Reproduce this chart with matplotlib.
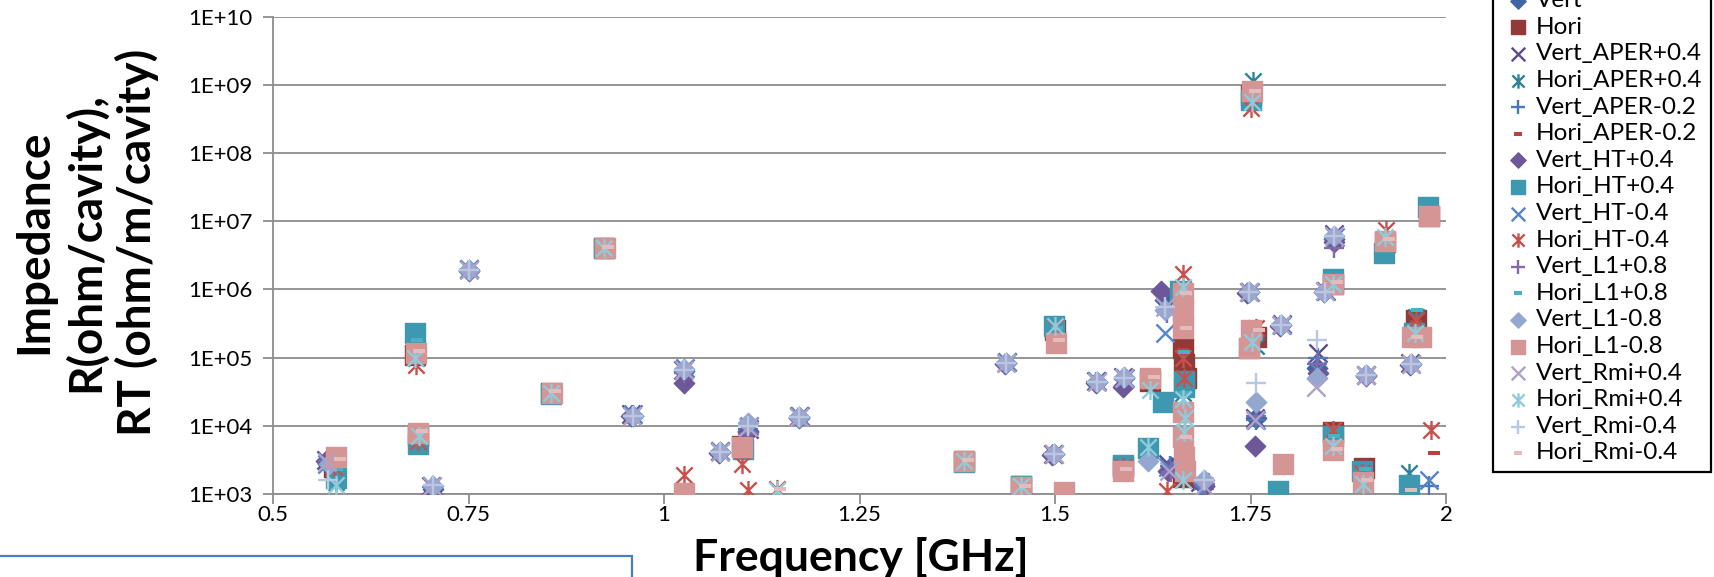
import math

import matplotlib
matplotlib.use("Agg")
import matplotlib.pyplot as plt
from matplotlib.path import Path
from matplotlib.patches import Rectangle
from matplotlib.ticker import FixedLocator, FuncFormatter, NullLocator

plt.rcParams["font.family"] = ["Lato", "DejaVu Sans"]

# ---------------------------------------------------------------------------
# Mode frequencies [GHz] and impedances per geometry variant
# ---------------------------------------------------------------------------

vert_f = [0.570, 0.704, 0.750, 0.960, 1.026, 1.072, 1.107, 1.173, 1.437, 1.498, 1.553, 1.588,
          1.640, 1.648, 1.690, 1.748, 1.757, 1.789, 1.835, 1.845, 1.857, 1.898, 1.955]
vert_z = [2.8e3, 1.2e3, 1.9e6, 1.4e4, 6.3e4, 4.2e3, 8.5e3, 1.35e4, 8.3e4, 3.8e3, 4.4e4, 5.0e4,
          7e5, 2.5e3, 1.3e3, 9e5, 1.3e4, 3e5, 7e4, 9.5e5, 5.5e6, 5.5e4, 8e4]

hori_f = [0.578, 0.682, 0.686, 0.856, 0.923, 1.100, 1.384, 1.456, 1.500, 1.587, 1.621, 1.663,
          1.665, 1.667, 1.664, 1.750, 1.757, 1.855, 1.855, 1.895, 1.922, 1.962, 1.978]
hori_z = [2.5e3, 1.1e5, 7e3, 3e4, 4e6, 5e3, 3e3, 1.3e3, 2.5e5, 2.5e3, 4.5e4, 1.4e5,
          8e4, 5e4, 1.8e3, 7e8, 2e5, 1.2e6, 8e3, 2.4e3, 5e6, 3.5e5, 1.2e7]

vert_aper_p04_f = [0.568, 0.702, 0.751, 0.958, 1.024, 1.071, 1.108, 1.172, 1.438, 1.497, 1.552,
                   1.587, 1.645, 1.685, 1.748, 1.755, 1.790, 1.836, 1.846, 1.857, 1.897, 1.954]
vert_aper_p04_z = [3.2e3, 1.3e3, 2.0e6, 1.5e4, 6.5e4, 4.3e3, 9e3, 1.4e4, 8.5e4, 3.9e3, 4.5e4,
                   5.2e4, 2.8e3, 1.5e3, 9.2e5, 1.3e4, 3.1e5, 1.15e5, 9.5e5, 6.5e6, 5.6e4, 8.2e4]

hori_aper_p04_f = [0.580, 0.683, 0.686, 0.856, 0.923, 1.100, 1.384, 1.456, 1.500, 1.619, 1.663,
                   1.664, 1.666, 1.753, 1.757, 1.855, 1.855, 1.922, 1.953, 1.962]
hori_aper_p04_z = [1.5e3, 1e5, 6e3, 3e4, 4.1e6, 4.8e3, 3e3, 1.3e3, 3e5, 4.9e3, 9e5,
                   3e4, 1.5e4, 1.15e9, 1.5e5, 1.3e6, 6.5e3, 5e6, 2e3, 4e5]

vert_aper_m02_f = [0.570, 0.704, 0.750, 0.960, 1.026, 1.072, 1.107, 1.173, 1.437, 1.498, 1.553,
                   1.588, 1.647, 1.690, 1.748, 1.757, 1.789, 1.836, 1.845, 1.857, 1.898, 1.955, 1.978]
vert_aper_m02_z = [2.9e3, 1.3e3, 1.9e6, 1.45e4, 6.4e4, 4.2e3, 9e3, 1.35e4, 8.3e4, 3.8e3, 4.4e4,
                   5e4, 2.6e3, 1.2e3, 9e5, 1.2e4, 3e5, 1e5, 9.4e5, 5.5e6, 5.5e4, 8e4, 1.3e3]

hori_aper_m02_f = [0.580, 0.683, 0.687, 0.856, 0.923, 1.101, 1.384, 1.456, 1.500, 1.587, 1.621,
                   1.664, 1.665, 1.750, 1.756, 1.855, 1.856, 1.895, 1.922, 1.962, 1.978, 1.984]
hori_aper_m02_z = [2.4e3, 1.1e5, 7e3, 3e4, 4e6, 5e3, 3e3, 1.3e3, 2.6e5, 2.5e3, 4.5e4,
                   1.3e5, 5.5e4, 7e8, 2e5, 1.2e6, 8e3, 2.4e3, 5e6, 3.3e5, 1.25e7, 4e3]

vert_ht_p04_f = [0.568, 0.703, 0.750, 0.958, 1.026, 1.070, 1.107, 1.172, 1.436, 1.496, 1.552, 1.587,
                 1.636, 1.645, 1.690, 1.746, 1.756, 1.788, 1.836, 1.844, 1.857, 1.897, 1.954]
vert_ht_p04_z = [3e3, 1.0e3, 1.85e6, 1.4e4, 4.2e4, 4e3, 8e3, 1.3e4, 8e4, 3.7e3, 4.2e4, 3.7e4,
                 9.5e5, 2.2e3, 1.3e3, 8.8e5, 5e3, 2.9e5, 6e4, 9e5, 5e6, 5.4e4, 7.8e4]

hori_ht_p04_f = [0.581, 0.682, 0.686, 0.856, 0.923, 1.101, 1.384, 1.456, 1.499, 1.587, 1.619, 1.638,
                 1.660, 1.665, 1.665, 1.750, 1.748, 1.785, 1.855, 1.856, 1.893, 1.921, 1.953,
                 1.959, 1.977]
hori_ht_p04_z = [1.7e3, 2.3e5, 5.5e3, 2.9e4, 4e6, 4.5e3, 2.9e3, 1.3e3, 2.9e5, 2.7e3, 4.7e3, 2.2e4,
                 9.5e5, 4.5e4, 3.7e4, 5.9e8, 1.4e5, 1.1e3, 1.4e6, 7e3, 2.2e3, 3.4e6, 1.35e3,
                 2.3e5, 1.6e7]

vert_ht_m04_f = [0.569, 0.703, 0.751, 0.960, 1.027, 1.071, 1.108, 1.174, 1.438, 1.498, 1.553, 1.589,
                 1.640, 1.645, 1.688, 1.749, 1.757, 1.790, 1.835, 1.845, 1.858, 1.898, 1.955, 1.978]
vert_ht_m04_z = [2.8e3, 1.3e3, 2e6, 1.5e4, 7e4, 4.3e3, 1e4, 1.4e4, 8.5e4, 3.9e3, 4.5e4, 5.1e4,
                 2.3e5, 2.5e3, 1.1e3, 9.2e5, 1.2e4, 3e5, 6.5e4, 9.5e5, 5.8e6, 5.6e4, 8.1e4, 1.6e3]

hori_ht_m04_f = [0.578, 0.683, 0.686, 0.856, 0.923, 1.026, 1.100, 1.107, 1.145, 1.384, 1.456, 1.500,
                 1.587, 1.621, 1.663, 1.664, 1.665, 1.643, 1.751, 1.757, 1.855, 1.856, 1.893,
                 1.923, 1.961, 1.981]
hori_ht_m04_z = [2.5e3, 7.8e4, 6e3, 3e4, 4e6, 1.9e3, 2.8e3, 1.15e3, 1.2e3, 3e3, 1.3e3, 2.8e5,
                 2.5e3, 4.5e4, 1.7e6, 1e5, 5e4, 1.1e3, 4.5e8, 2.7e5, 1.3e6, 8.7e3, 2e3,
                 7.5e6, 3.5e5, 8.7e3]

vert_l1_p08_f = [0.570, 0.703, 0.750, 0.959, 1.025, 1.071, 1.107, 1.173, 1.437, 1.497, 1.552, 1.588,
                 1.643, 1.648, 1.692, 1.748, 1.757, 1.789, 1.835, 1.845, 1.857, 1.898, 1.955]
vert_l1_p08_z = [3e3, 1.25e3, 1.95e6, 1.45e4, 6e4, 4.2e3, 7.5e3, 1.35e4, 8.4e4, 3.8e3, 4.4e4, 4.8e4,
                 4.5e5, 2.1e3, 1.4e3, 9.1e5, 1.4e4, 3e5, 8e4, 9.4e5, 4e6, 5.5e4, 8e4]

hori_l1_p08_f = [0.582, 0.684, 0.688, 0.858, 0.925, 1.102, 1.386, 1.458, 1.502, 1.589, 1.622,
                 1.665, 1.666, 1.752, 1.758, 1.857, 1.857, 1.896, 1.924, 1.963, 1.979]
hori_l1_p08_z = [2.3e3, 1.8e5, 6.5e3, 3e4, 4e6, 4.6e3, 3e3, 1.3e3, 2.7e5, 2.5e3, 4.3e4,
                 1.2e5, 3e4, 6.5e8, 2e5, 1.3e6, 7e3, 2.3e3, 4.5e6, 5e5, 1.3e7]

vert_l1_m08_f = [0.572, 0.704, 0.750, 0.960, 1.026, 1.072, 1.107, 1.173, 1.437, 1.498, 1.553, 1.588,
                 1.640, 1.619, 1.690, 1.748, 1.757, 1.789, 1.835, 1.844, 1.857, 1.898, 1.955]
vert_l1_m08_z = [2.8e3, 1.3e3, 1.95e6, 1.4e4, 6.8e4, 4.2e3, 1.1e4, 1.35e4, 8.3e4, 3.8e3, 4.4e4, 5.2e4,
                 5e5, 3e3, 1.6e3, 9.2e5, 2.2e4, 3e5, 5e4, 9.3e5, 6e6, 5.6e4, 8.1e4]

hori_l1_m08_f = [0.581, 0.683, 0.686, 0.857, 0.924, 1.026, 1.100, 1.384, 1.457, 1.501, 1.511, 1.587,
                 1.621, 1.663, 1.663, 1.664, 1.664, 1.665, 1.666, 1.664, 1.752, 1.750, 1.748,
                 1.791, 1.855, 1.855, 1.894, 1.922, 1.957, 1.968, 1.978]
hori_l1_m08_z = [3.5e3, 1.15e5, 7.8e3, 3e4, 4e6, 1.05e3, 4.9e3, 3e3, 1.25e3, 1.65e5, 1.07e3, 2.2e3,
                 5e4, 8.7e5, 5e5, 2.7e5, 6.8e3, 3.5e3, 2.2e3, 1.6e4, 8.1e8, 2.5e5, 1.4e5,
                 2.8e3, 1.2e6, 4.4e3, 1.5e3, 5.2e6, 2e5, 2e5, 1.2e7]

vert_rmi_p04_f = [0.569, 0.703, 0.750, 0.959, 1.026, 1.072, 1.107, 1.173, 1.437, 1.498, 1.553, 1.588,
                  1.641, 1.646, 1.690, 1.748, 1.755, 1.789, 1.833, 1.845, 1.857, 1.898, 1.955]
vert_rmi_p04_z = [2.9e3, 1.3e3, 1.9e6, 1.4e4, 6.5e4, 4.2e3, 9.5e3, 1.35e4, 8.3e4, 3.8e3, 4.4e4, 5e4,
                  5.5e5, 2.2e3, 1.3e3, 9e5, 1.2e4, 3e5, 3.7e4, 9.4e5, 6e6, 5.5e4, 8e4]

hori_rmi_p04_f = [0.580, 0.682, 0.687, 0.856, 0.923, 1.145, 1.384, 1.456, 1.500, 1.619, 1.621,
                  1.663, 1.664, 1.665, 1.666, 1.664, 1.752, 1.752, 1.855, 1.856, 1.894, 1.922, 1.960]
hori_rmi_p04_z = [1.35e3, 1e5, 7e3, 3e4, 4e6, 1.15e3, 3e3, 1.3e3, 2.9e5, 4.9e3, 3.3e4,
                  1.1e6, 2.5e4, 8e3, 1.3e4, 1.6e3, 5.5e8, 1.7e5, 1.2e6, 5e3, 1.4e3, 5.8e6, 2.3e5]

vert_rmi_m04_f = [0.570, 0.704, 0.750, 0.960, 1.026, 1.072, 1.107, 1.173, 1.437, 1.498, 1.553, 1.588,
                  1.640, 1.690, 1.748, 1.757, 1.789, 1.835, 1.845, 1.857, 1.898, 1.955]
vert_rmi_m04_z = [1.6e3, 1.35e3, 1.95e6, 1.4e4, 6.6e4, 4.2e3, 1e4, 1.35e4, 8.3e4, 3.8e3, 4.4e4, 5e4,
                  5.5e5, 1.6e3, 9.2e5, 4.2e4, 3e5, 1.8e5, 9.3e5, 6e6, 5.5e4, 8e4]

hori_rmi_m04_f = [0.585, 0.687, 0.690, 0.861, 0.928, 1.148, 1.389, 1.461, 1.505, 1.591, 1.626,
                  1.668, 1.668, 1.668, 1.756, 1.761, 1.860, 1.860, 1.899, 1.927, 1.955, 1.963]
hori_rmi_m04_z = [3.3e3, 1.25e5, 8.3e3, 3.2e4, 4.2e6, 1.2e3, 3.2e3, 1.3e3, 1.8e5, 2.3e3, 5.2e4,
                  8.7e5, 2.7e5, 6.8e3, 8e8, 2.5e5, 1.3e6, 4.5e3, 1.6e3, 5.5e6, 1.15e3, 2e5]

x_ticks = [0.5, 0.75, 1.0, 1.25, 1.5, 1.75, 2.0]
y_ticks = [1e3, 1e4, 1e5, 1e6, 1e7, 1e8, 1e9, 1e10]

# ---------------------------------------------------------------------------
# Marker shapes (spreadsheet-style asterisk and short dash)
# ---------------------------------------------------------------------------

STAR = Path([(0, -1), (0, 1), (-0.85, -0.85), (0.85, 0.85), (-0.85, 0.85), (0.85, -0.85)],
            [Path.MOVETO, Path.LINETO] * 3)
DASH = Path([(-1, -0.42), (1, -0.42), (1, 0.42), (-1, 0.42), (-1, -0.42)],
            [Path.MOVETO, Path.LINETO, Path.LINETO, Path.LINETO, Path.CLOSEPOLY])

STYLE = {
    "diamond": dict(marker="D", s=108),
    "square": dict(marker="s", s=196),
    "x": dict(marker="x", s=170, linewidths=1.7),
    "star": dict(marker=STAR, s=190, linewidths=1.7),
    "plus": dict(marker="+", s=190, linewidths=1.7),
    "dash": dict(marker=DASH, s=70, linewidths=0),
}

series = [
    ("Vert", vert_f, vert_z, "#3F66A3", "diamond"),
    ("Hori", hori_f, hori_z, "#923A38", "square"),
    ("Vert_APER+0.4", vert_aper_p04_f, vert_aper_p04_z, "#5E4A8A", "x"),
    ("Hori_APER+0.4", hori_aper_p04_f, hori_aper_p04_z, "#2F8298", "star"),
    ("Vert_APER-0.2", vert_aper_m02_f, vert_aper_m02_z, "#4A78BA", "plus"),
    ("Hori_APER-0.2", hori_aper_m02_f, hori_aper_m02_z, "#B8423F", "dash"),
    ("Vert_HT+0.4", vert_ht_p04_f, vert_ht_p04_z, "#6E5799", "diamond"),
    ("Hori_HT+0.4", hori_ht_p04_f, hori_ht_p04_z, "#3E99B0", "square"),
    ("Vert_HT-0.4", vert_ht_m04_f, vert_ht_m04_z, "#5584C8", "x"),
    ("Hori_HT-0.4", hori_ht_m04_f, hori_ht_m04_z, "#C8504C", "star"),
    ("Vert_L1+0.8", vert_l1_p08_f, vert_l1_p08_z, "#8468A8", "plus"),
    ("Hori_L1+0.8", hori_l1_p08_f, hori_l1_p08_z, "#4BAFC8", "dash"),
    ("Vert_L1-0.8", vert_l1_m08_f, vert_l1_m08_z, "#93A7D1", "diamond"),
    ("Hori_L1-0.8", hori_l1_m08_f, hori_l1_m08_z, "#D49594", "square"),
    ("Vert_Rmi+0.4", vert_rmi_p04_f, vert_rmi_p04_z, "#ADA2C8", "x"),
    ("Hori_Rmi+0.4", hori_rmi_p04_f, hori_rmi_p04_z, "#8FCBDB", "star"),
    ("Vert_Rmi-0.4", vert_rmi_m04_f, vert_rmi_m04_z, "#B8C7E3", "plus"),
    ("Hori_Rmi-0.4", hori_rmi_m04_f, hori_rmi_m04_z, "#E4BCBB", "dash"),
]

GRID = "#8C8C8C"


def decade_label(v, _pos):
    return f"1E+{round(math.log10(v)):02d}"


fig = plt.figure(figsize=(17.14, 5.77), dpi=100)
ax = fig.add_axes([0.1593, 0.1438, 0.6844, 0.8276])

handles = []
for label, f, z, color, kind in series:
    h = ax.scatter(f, z, color=color, label=label, zorder=3, **STYLE[kind])
    handles.append(h)

ax.set_yscale("log")
ax.set_xlim(0.5, 2.0)
ax.set_ylim(1e3, 1e10)
ax.xaxis.set_major_locator(FixedLocator(x_ticks))
ax.xaxis.set_major_formatter(FuncFormatter(lambda v, _: f"{v:g}"))
ax.yaxis.set_major_locator(FixedLocator(y_ticks))
ax.yaxis.set_minor_locator(NullLocator())
ax.yaxis.set_major_formatter(FuncFormatter(decade_label))

ax.grid(axis="y", color=GRID, lw=1.3)
ax.set_axisbelow(True)
for side in ("top", "right"):
    ax.spines[side].set_visible(False)
for side in ("left", "bottom"):
    ax.spines[side].set_color(GRID)
    ax.spines[side].set_linewidth(1.3)
ax.tick_params(axis="both", direction="out", length=7, width=1.3, color=GRID, labelsize=16)
ax.tick_params(axis="x", pad=1)
ax.tick_params(axis="y", pad=8)

fig.text(861 / 1714, 0.010, "Frequency [GHz]", ha="center", va="baseline",
         fontsize=32, fontweight="bold")
fig.text(86 / 1714, 1 - 242 / 577, "Impedance\nR(ohm/cavity),\nRT (ohm/m/cavity)",
         rotation=90, ha="center", va="center", multialignment="center",
         fontsize=33, fontweight="bold", linespacing=1.22)

leg = fig.legend(handles=handles, loc="lower left", bbox_to_anchor=(1493 / 1714, 105 / 577),
                 borderaxespad=0, fontsize=17.5, scatterpoints=1, markerscale=0.75,
                 labelspacing=0.23, handlelength=1.35, handletextpad=0.05, borderpad=0.35,
                 fancybox=False, framealpha=1, edgecolor="black")
leg.get_frame().set_linewidth(1.6)

# outline of the text box under the plot
fig.add_artist(Rectangle((-0.01, -0.1), 0.01 + 632 / 1714, 0.1 + 1 - 556 / 577,
                         transform=fig.transFigure, facecolor="none",
                         edgecolor="#4A7EBB", lw=1.6))

fig.savefig("out.png", dpi=100)
